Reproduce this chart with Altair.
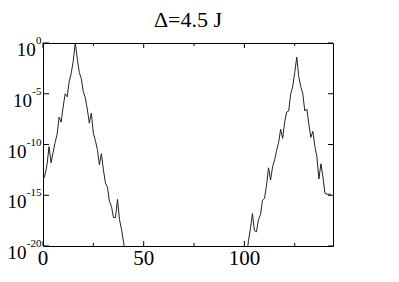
import altair as alt
import pandas as pd

FONT = "Liberation Serif"

# left packet (site index, log10 of value)
left_x = list(range(0, 42))
left_log = [-13.5, -13.0, -12.0, -10.2, -11.8, -10.8, -9.8, -9.0, -7.3, -7.8,
            -6.3, -5.0, -5.3, -3.8, -3.0, -1.8, 0.0, -1.5, -2.9, -3.5,
            -4.8, -5.4, -6.5, -7.9, -6.9, -8.9, -9.6, -10.5, -12.0, -10.9,
            -12.5, -13.8, -14.2, -15.6, -16.1, -17.2, -17.2, -15.4, -17.4, -18.4,
            -19.6, -21.0]
# right packet
right_x = list(range(101, 144))
right_log = [-21.5, -19.5, -18.3, -16.8, -18.5, -18.6, -17.4, -16.9, -15.5, -15.3,
             -14.0, -12.3, -13.5, -12.2, -11.5, -10.6, -9.8, -8.5, -9.4, -7.8,
             -6.8, -6.7, -5.0, -4.3, -2.9, -1.4, -3.3, -4.3, -5.0, -6.7,
             -6.5, -8.0, -9.3, -8.7, -10.2, -11.2, -13.4, -11.9, -13.2, -14.8,
             -14.9, -14.9, -14.9]

x_major = [0, 50, 100]
x_major_labels = ["0", "50", "100"]
x_minor = [25, 75, 125]
y_exps = [0, -5, -10, -15, -20]
y_exp_labels = ["0", "-5", "-10", "-15", "-20"]
title_text = ["Δ=4.5 J"]

W, H = 290, 203
EXP_FS = 11
TEN_FS = 19

rows = []
for x, v in zip(left_x, left_log):
    rows.append({"site": x, "p": 10.0 ** v, "seg": "a"})
for x, v in zip(right_x, right_log):
    rows.append({"site": x, "p": 10.0 ** v, "seg": "b"})
df = pd.DataFrame(rows)

xs = alt.Scale(domain=[0, 144], nice=False, zero=False)
ys = alt.Scale(type="log", domain=[1e-20, 1], nice=False)

line = alt.Chart(df).mark_line(clip=True, color="#222", strokeWidth=1).encode(
    x=alt.X("site:Q", scale=xs, axis=None),
    y=alt.Y("p:Q", scale=ys, axis=None),
    detail="seg:N",
)

xmaj = pd.DataFrame({"t": x_major, "lab": x_major_labels})
xmin = pd.DataFrame({"t": x_minor})
yt = pd.DataFrame({"v": [10.0 ** e for e in y_exps], "e": y_exp_labels})

def xticks(data, L):
    bot = alt.Chart(data).mark_rule(color="black", strokeWidth=1).encode(
        x=alt.X("t:Q", scale=xs, axis=None), y=alt.value(H), y2=alt.value(H - L))
    top = alt.Chart(data).mark_rule(color="black", strokeWidth=1).encode(
        x=alt.X("t:Q", scale=xs, axis=None), y=alt.value(0), y2=alt.value(L))
    return bot + top

ytick_l = alt.Chart(yt).mark_rule(color="black", strokeWidth=1).encode(
    y=alt.Y("v:Q", scale=ys, axis=None), x=alt.value(0), x2=alt.value(6))
ytick_r = alt.Chart(yt).mark_rule(color="black", strokeWidth=1).encode(
    y=alt.Y("v:Q", scale=ys, axis=None), x=alt.value(W), x2=alt.value(W - 5))

xlab = alt.Chart(xmaj).mark_text(font=FONT, fontSize=21, align="center",
                                 baseline="alphabetic", color="black").encode(
    x=alt.X("t:Q", scale=xs, axis=None), y=alt.value(H + 19), text="lab:N")

EXP_RIGHT = -1.5
exp_text = alt.Chart(yt).mark_text(font=FONT, fontSize=EXP_FS, align="right",
                                   baseline="alphabetic", dy=1, color="black").encode(
    x=alt.value(EXP_RIGHT), y=alt.Y("v:Q", scale=ys, axis=None), text="e:N")


def text_width(s, fs):
    w = 0.0
    for ch in s:
        w += 0.333 * fs if ch == "-" else 0.5 * fs
    return w


ten_layers = []
for e, lab in zip(y_exps, y_exp_labels):
    d = pd.DataFrame({"v": [10.0 ** e]})
    xpos = EXP_RIGHT - text_width(lab, EXP_FS) - 0.3
    ten_layers.append(
        alt.Chart(d).mark_text(font=FONT, fontSize=TEN_FS, align="right",
                               baseline="alphabetic", dy=13, color="black").encode(
            x=alt.value(xpos), y=alt.Y("v:Q", scale=ys, axis=None), text=alt.value("10"))
    )

title = alt.Chart(pd.DataFrame({"t": title_text})).mark_text(
    font=FONT, fontSize=22, align="center", baseline="alphabetic", color="black").encode(
    x=alt.value(W / 2), y=alt.value(-16), text="t:N")

chart = alt.layer(line, xticks(xmaj, 5), xticks(xmin, 3), ytick_l, ytick_r,
                  xlab, exp_text, *ten_layers, title).properties(
    width=W, height=H,
    autosize=alt.AutoSizeParams(type="none"),
    padding={"left": 35, "top": 35, "right": 58, "bottom": 28},
).configure(background="white", font=FONT).configure_view(stroke="black", strokeWidth=1)

chart.save("out.html", embed_options={"renderer": "svg", "actions": False})
